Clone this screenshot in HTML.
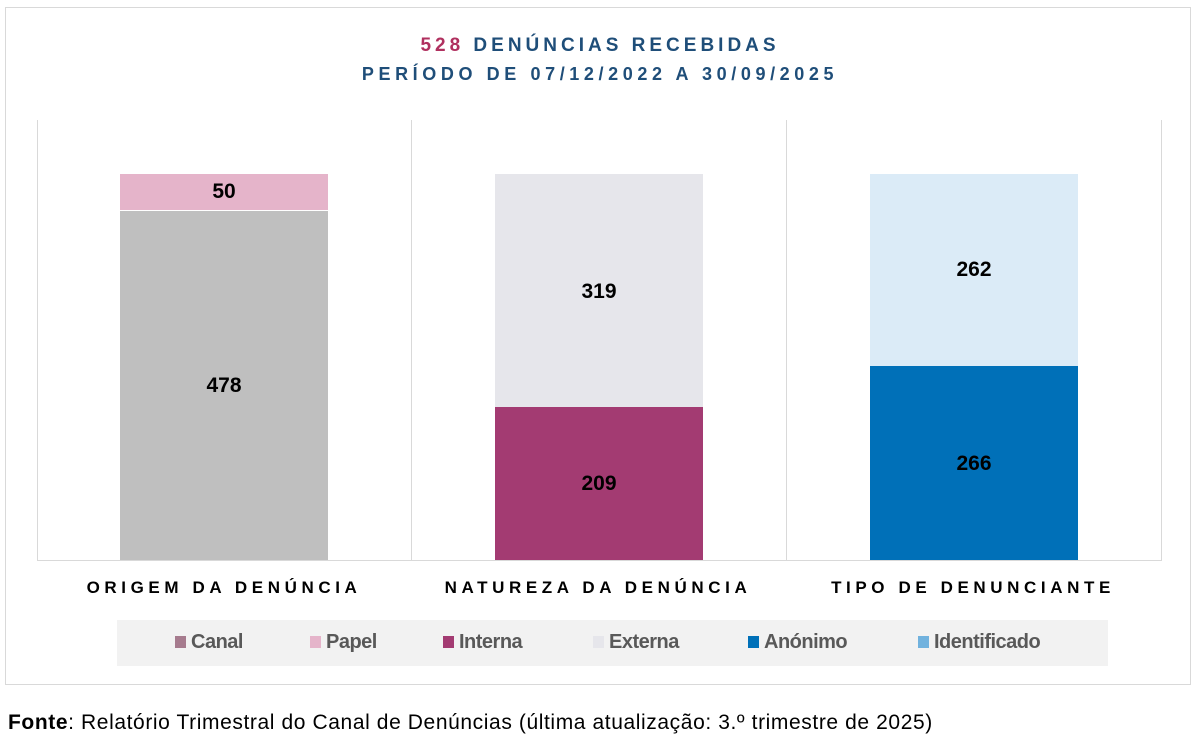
<!DOCTYPE html>
<html><head><meta charset="utf-8"><style>
body{margin:0;width:1200px;height:739px;background:#fff;font-family:"Liberation Sans",sans-serif;position:relative;overflow:hidden}
.a{position:absolute}
.frame{left:5px;top:7px;width:1184px;height:676px;border:1px solid #d9d9d9}
.t{left:0;width:1200px;text-align:center;font-weight:bold;color:#1f4e79}
.v{width:1px;background:#d9d9d9;top:120px;height:440px}
.bar{width:208px}
.lbl{font-weight:bold;font-size:21px;color:#000;text-align:center;width:208px}
.cat{font-weight:bold;font-size:17px;letter-spacing:4.6px;text-align:center;width:374px;top:578px;color:#000}
.leg{left:117px;top:620px;width:991px;height:46px;background:#f2f2f2}
.li{position:absolute;top:631px;font-size:20px;font-weight:bold;color:#595959;letter-spacing:-0.5px}
.sq{display:inline-block;width:11px;height:12px;margin-right:5px;vertical-align:0px}
</style></head><body>
<div class="a frame"></div>
<div class="a t" style="top:35px;font-size:19px;letter-spacing:4px"><span style="color:#b0305f">528</span> DENÚNCIAS RECEBIDAS</div>
<div class="a t" style="top:64px;font-size:18px;letter-spacing:4.6px">PERÍODO DE 07/12/2022 A 30/09/2025</div>
<div class="a v" style="left:37px"></div>
<div class="a v" style="left:411px"></div>
<div class="a v" style="left:786px"></div>
<div class="a v" style="left:1161px"></div>
<div class="a" style="left:37px;top:560px;width:1125px;height:1px;background:#d9d9d9"></div>
<div class="a bar" style="left:120px;top:174px;height:36px;background:#e5b4ca"></div>
<div class="a bar" style="left:120px;top:211px;height:349px;background:#bfbfbf"></div>
<div class="a bar" style="left:495px;top:174px;height:233px;background:#e6e6eb"></div>
<div class="a bar" style="left:495px;top:407px;height:153px;background:#a33b72"></div>
<div class="a bar" style="left:870px;top:174px;height:192px;background:#dbebf7"></div>
<div class="a bar" style="left:870px;top:366px;height:194px;background:#0070b8"></div>
<div class="a lbl" style="left:120px;top:180px">50</div>
<div class="a lbl" style="left:120px;top:374px">478</div>
<div class="a lbl" style="left:495px;top:280px">319</div>
<div class="a lbl" style="left:495px;top:472px">209</div>
<div class="a lbl" style="left:870px;top:258px">262</div>
<div class="a lbl" style="left:870px;top:452px">266</div>
<div class="a cat" style="left:37px">ORIGEM DA DENÚNCIA</div>
<div class="a cat" style="left:411px">NATUREZA DA DENÚNCIA</div>
<div class="a cat" style="left:786px">TIPO DE DENUNCIANTE</div>
<div class="a leg"></div>
<div class="li" style="left:175px"><span class="sq" style="background:#a67b8e"></span>Canal</div>
<div class="li" style="left:310px"><span class="sq" style="background:#e5b4ca"></span>Papel</div>
<div class="li" style="left:443px"><span class="sq" style="background:#a33b72"></span>Interna</div>
<div class="li" style="left:593px"><span class="sq" style="background:#e6e6eb"></span>Externa</div>
<div class="li" style="left:748px"><span class="sq" style="background:#0070b8"></span>Anónimo</div>
<div class="li" style="left:918px"><span class="sq" style="background:#71b2de"></span>Identificado</div>
<div class="a" style="left:8px;top:711px;font-size:21px;letter-spacing:0.6px;color:#000"><b>Fonte</b>: Relatório Trimestral do Canal de Denúncias (última atualização: 3.º trimestre de 2025)</div>
</body></html>
